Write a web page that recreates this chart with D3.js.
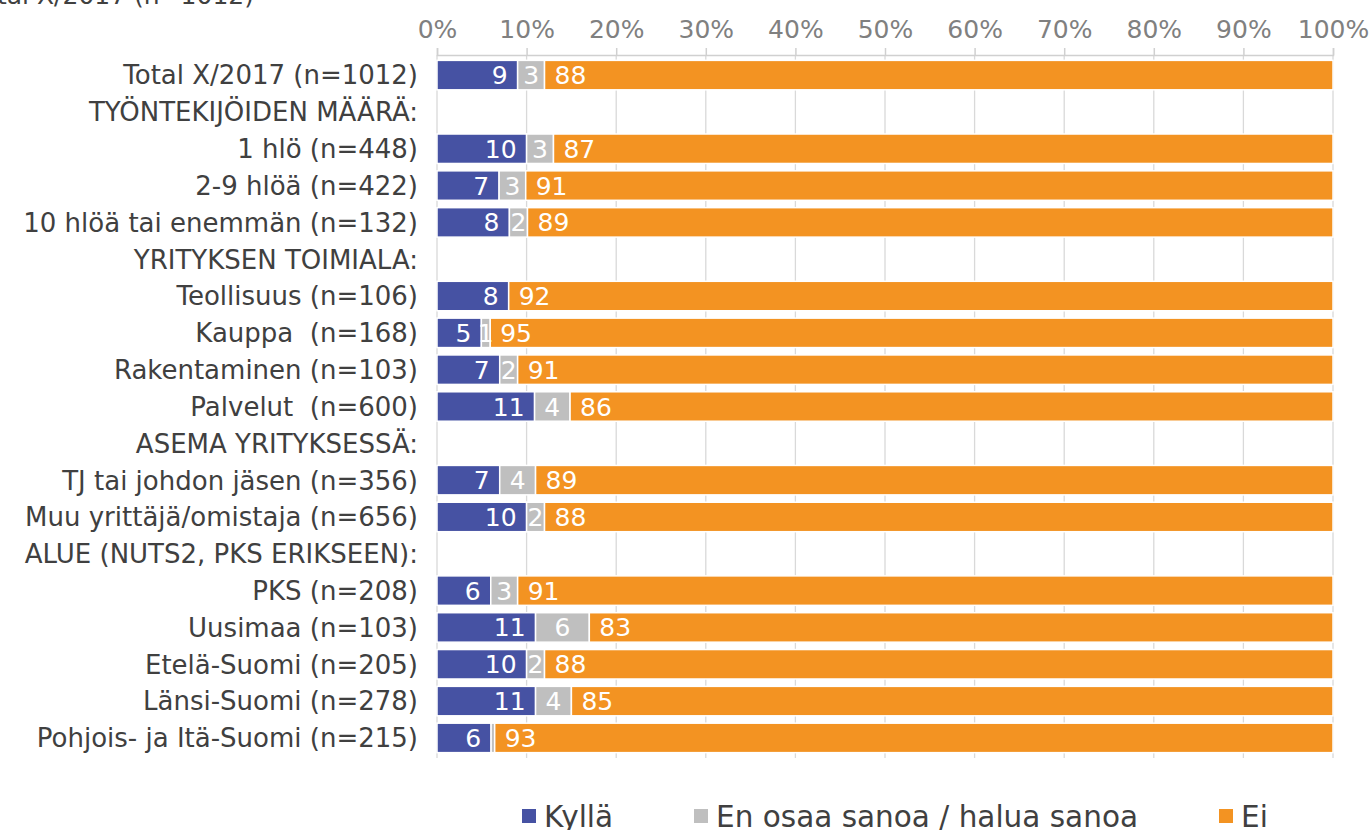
<!DOCTYPE html>
<html>
<head>
<meta charset="utf-8">
<script src="https://cdn.jsdelivr.net/npm/d3@7"></script>
<style>
  body { margin: 0; background: #fff; overflow: hidden; }
  text { font-family: "DejaVu Sans", Verdana, sans-serif; }
</style>
</head>
<body>
<div id="chart"></div>
<script>
// rows (header rows have no values)
const categories = [
  "Total X/2017 (n=1012)",
  "TYÖNTEKIJÖIDEN MÄÄRÄ:",
  "1 hlö (n=448)",
  "2-9 hlöä (n=422)",
  "10 hlöä tai enemmän (n=132)",
  "YRITYKSEN TOIMIALA:",
  "Teollisuus (n=106)",
  "Kauppa  (n=168)",
  "Rakentaminen (n=103)",
  "Palvelut  (n=600)",
  "ASEMA YRITYKSESSÄ:",
  "TJ tai johdon jäsen (n=356)",
  "Muu yrittäjä/omistaja (n=656)",
  "ALUE (NUTS2, PKS ERIKSEEN):",
  "PKS (n=208)",
  "Uusimaa (n=103)",
  "Etelä-Suomi (n=205)",
  "Länsi-Suomi (n=278)",
  "Pohjois- ja Itä-Suomi (n=215)"
]
const kylla = [9, null, 10, 7, 8, null, 8, 5, 7, 11, null, 7, 10, null, 6, 11, 10, 11, 6]
const eos   = [3, null, 3, 3, 2, null, 0, 1, 2, 4, null, 4, 2, null, 3, 6, 2, 4, 0.4]
const ei    = [88, null, 87, 91, 89, null, 92, 95, 91, 86, null, 89, 88, null, 91, 83, 88, 85, 93]

const seriesNames = ["Kyllä", "En osaa sanoa / halua sanoa", "Ei"]
const colors = ["#4652a3", "#bfbfbf", "#f39322"]
const ticks = [0, 10, 20, 30, 40, 50, 60, 70, 80, 90, 100]

const width = 1372, height = 830
const svg = d3.select("#chart").append("svg")
  .attr("width", width)
  .attr("height", height)

const x = d3.scaleLinear().domain([0, 100]).range([437, 1333])
const y = d3.scaleBand().domain(categories).range([53, 760]).padding(0.2)

// cut-off title at the top
svg.append("text")
  .attr("x", 254).attr("y", 4)
  .attr("text-anchor", "end")
  .attr("font-size", 25).attr("fill", "#404040")
  .text("Total X/2017 (n=1012)")

// gridlines
svg.append("g")
  .selectAll("line")
  .data(ticks)
  .join("line")
    .attr("x1", d => x(d)).attr("x2", d => x(d))
    .attr("y1", 55).attr("y2", 758)
    .attr("stroke", "#d9d9d9").attr("stroke-width", 1.3)

// top axis
const axis = svg.append("g")
  .attr("transform", "translate(0,55)")
  .call(d3.axisTop(x).tickValues(ticks).tickFormat(d => d + "%").tickSize(7).tickPadding(10))
axis.select(".domain").attr("stroke", "#d0d0d0").attr("stroke-width", 1.5)
axis.selectAll(".tick line").attr("stroke", "#d0d0d0").attr("stroke-width", 1.5)
axis.selectAll(".tick text")
  .attr("font-size", 25)
  .attr("fill", "#808080")
  .attr("font-family", "DejaVu Sans, Verdana, sans-serif")

// category labels
svg.append("g")
  .selectAll("text")
  .data(categories)
  .join("text")
    .attr("x", 418)
    .attr("y", d => y(d) + y.bandwidth() / 2)
    .attr("dy", "0.36em")
    .attr("text-anchor", "end")
    .attr("font-size", 26)
    .attr("fill", "#404040")
    .style("white-space", "pre")
    .text(d => d)

// stacked rows
const rows = categories.map((c, i) => ({ cat: c, vals: [kylla[i], eos[i], ei[i]] }))
  .filter(r => r.vals[0] !== null)

const segs = []
rows.forEach(r => {
  const total = d3.sum(r.vals)
  let acc = 0
  r.vals.forEach((v, k) => {
    const x0 = acc / total * 100
    acc += v
    const x1 = acc / total * 100
    segs.push({ cat: r.cat, k: k, v: v, x0: x0, x1: x1 })
  })
})

svg.append("g")
  .selectAll("rect")
  .data(segs.filter(d => d.v > 0))
  .join("rect")
    .attr("x", d => x(d.x0))
    .attr("y", d => y(d.cat))
    .attr("width", d => x(d.x1) - x(d.x0))
    .attr("height", y.bandwidth())
    .attr("fill", d => colors[d.k])
    .attr("stroke", "#fff")
    .attr("stroke-width", 1.5)

svg.append("g")
  .selectAll("text")
  .data(segs.filter(d => Math.round(d.v) >= 1))
  .join("text")
    .attr("x", d => d.k == 0 ? x(d.x1) - 10 : d.k == 1 ? (x(d.x0) + x(d.x1)) / 2 : x(d.x0) + 10)
    .attr("y", d => y(d.cat) + y.bandwidth() / 2)
    .attr("dy", "0.36em")
    .attr("text-anchor", d => d.k == 0 ? "end" : d.k == 1 ? "middle" : "start")
    .attr("font-size", 25)
    .attr("fill", "#fff")
    .text(d => Math.round(d.v))

// legend
const legX = [522, 694, 1219]
const leg = svg.append("g")
  .selectAll("g")
  .data(seriesNames)
  .join("g")
    .attr("transform", (d, i) => `translate(${legX[i]},0)`)
leg.append("rect")
  .attr("x", 0).attr("y", 809)
  .attr("width", 14).attr("height", 14)
  .attr("fill", (d, i) => colors[i])
leg.append("text")
  .attr("x", 22).attr("y", 827)
  .attr("font-size", 29.5)
  .attr("fill", "#404040")
  .text(d => d)
</script>
</body>
</html>
